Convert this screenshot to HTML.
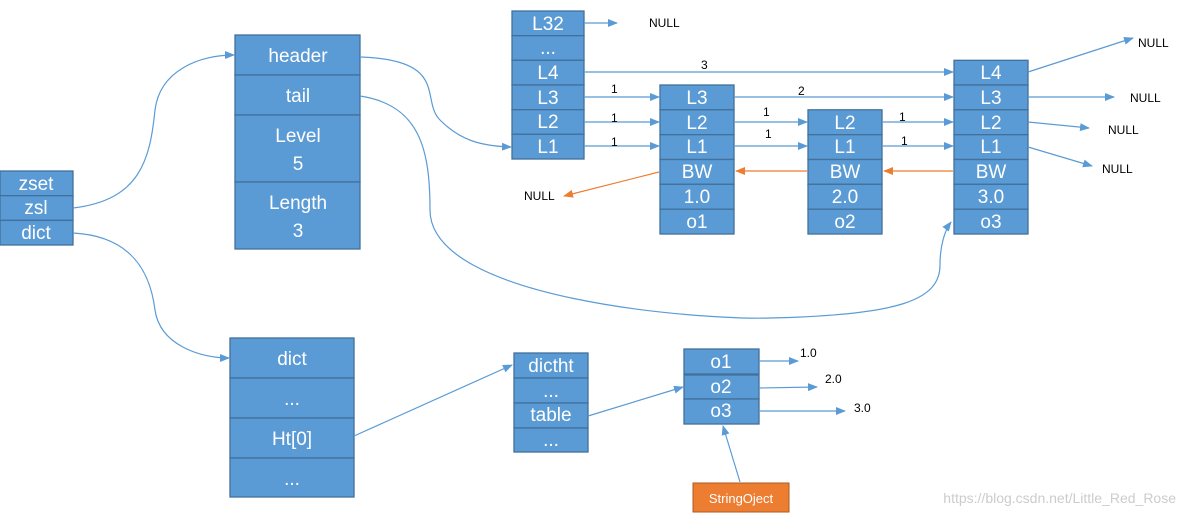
<!DOCTYPE html>
<html><head><meta charset="utf-8"><style>
html,body{margin:0;padding:0;background:#fff;}
svg{display:block;}
.b{fill:#5b9bd5;stroke:#41719c;stroke-width:1.3;}
.t{fill:#fff;font-family:"Liberation Sans",sans-serif;font-size:19px;text-anchor:middle;}
.l{stroke:#5b9bd5;stroke-width:1.2;fill:none;}
.o{stroke:#ed7d31;stroke-width:1.2;fill:none;}
.s{font-family:"Liberation Sans",sans-serif;font-size:12px;fill:#000;}
</style></head><body>
<svg width="1185" height="516" viewBox="0 0 1185 516" xmlns="http://www.w3.org/2000/svg">
<defs>
<marker id="a" markerWidth="10" markerHeight="8" refX="9" refY="4" orient="auto" markerUnits="userSpaceOnUse"><path d="M0,0 L10,4 L0,8z" fill="#5b9bd5"/></marker>
<marker id="ao" markerWidth="10" markerHeight="8" refX="9" refY="4" orient="auto" markerUnits="userSpaceOnUse"><path d="M0,0 L10,4 L0,8z" fill="#ed7d31"/></marker>
</defs>
<!-- zset -->
<rect class="b" x="0" y="171" width="73" height="24.7"/><rect class="b" x="0" y="195.7" width="73" height="24.7"/><rect class="b" x="0" y="220.4" width="73" height="24.6"/>
<text class="t" x="36" y="190">zset</text><text class="t" x="36" y="214">zsl</text><text class="t" x="36" y="239">dict</text>
<!-- zskiplist -->
<rect class="b" x="235" y="35" width="125" height="40"/><rect class="b" x="235" y="75" width="125" height="40"/><rect class="b" x="235" y="115" width="125" height="67"/><rect class="b" x="235" y="182" width="125" height="67"/>
<text class="t" x="298" y="62">header</text><text class="t" x="298" y="102">tail</text>
<text class="t" x="298" y="142">Level</text><text class="t" x="298" y="170">5</text>
<text class="t" x="298" y="209">Length</text><text class="t" x="298" y="237">3</text>
<!-- head node -->
<g>
<rect class="b" x="512" y="11" width="72" height="24.7"/><rect class="b" x="512" y="35.7" width="72" height="24.6"/><rect class="b" x="512" y="60.3" width="72" height="24.7"/><rect class="b" x="512" y="85" width="72" height="24.7"/><rect class="b" x="512" y="109.7" width="72" height="24.6"/><rect class="b" x="512" y="134.3" width="72" height="24.7"/>
<text class="t" x="548" y="30">L32</text><text class="t" x="548" y="54">...</text><text class="t" x="548" y="79">L4</text><text class="t" x="548" y="104">L3</text><text class="t" x="548" y="128">L2</text><text class="t" x="548" y="153">L1</text>
</g>
<!-- node1 -->
<g>
<rect class="b" x="660" y="85" width="74" height="24.8"/><rect class="b" x="660" y="109.8" width="74" height="24.9"/><rect class="b" x="660" y="134.7" width="74" height="24.8"/><rect class="b" x="660" y="159.5" width="74" height="24.8"/><rect class="b" x="660" y="184.3" width="74" height="24.9"/><rect class="b" x="660" y="209.2" width="74" height="24.8"/>
<text class="t" x="697" y="104">L3</text><text class="t" x="697" y="129">L2</text><text class="t" x="697" y="153">L1</text><text class="t" x="697" y="178">BW</text><text class="t" x="697" y="203">1.0</text><text class="t" x="697" y="228">o1</text>
</g>
<!-- node2 -->
<g>
<rect class="b" x="808" y="109.8" width="74" height="24.9"/><rect class="b" x="808" y="134.7" width="74" height="24.8"/><rect class="b" x="808" y="159.5" width="74" height="24.8"/><rect class="b" x="808" y="184.3" width="74" height="24.9"/><rect class="b" x="808" y="209.2" width="74" height="24.8"/>
<text class="t" x="845" y="129">L2</text><text class="t" x="845" y="153">L1</text><text class="t" x="845" y="178">BW</text><text class="t" x="845" y="203">2.0</text><text class="t" x="845" y="228">o2</text>
</g>
<!-- node3 -->
<g>
<rect class="b" x="954" y="60.3" width="74" height="24.7"/><rect class="b" x="954" y="85" width="74" height="24.8"/><rect class="b" x="954" y="109.8" width="74" height="24.9"/><rect class="b" x="954" y="134.7" width="74" height="24.8"/><rect class="b" x="954" y="159.5" width="74" height="24.8"/><rect class="b" x="954" y="184.3" width="74" height="24.9"/><rect class="b" x="954" y="209.2" width="74" height="24.8"/>
<text class="t" x="991" y="79">L4</text><text class="t" x="991" y="104">L3</text><text class="t" x="991" y="129">L2</text><text class="t" x="991" y="153">L1</text><text class="t" x="991" y="178">BW</text><text class="t" x="991" y="203">3.0</text><text class="t" x="991" y="228">o3</text>
</g>
<!-- dict -->
<rect class="b" x="230" y="338" width="124" height="40"/><rect class="b" x="230" y="378" width="124" height="40"/><rect class="b" x="230" y="418" width="124" height="40"/><rect class="b" x="230" y="458" width="124" height="39"/>
<text class="t" x="292" y="365">dict</text><text class="t" x="292" y="405">...</text><text class="t" x="292" y="445">Ht[0]</text><text class="t" x="292" y="485">...</text>
<!-- dictht -->
<rect class="b" x="514" y="353" width="74" height="25"/><rect class="b" x="514" y="378" width="74" height="25"/><rect class="b" x="514" y="403" width="74" height="25"/><rect class="b" x="514" y="428" width="74" height="24"/>
<text class="t" x="551" y="372">dictht</text><text class="t" x="551" y="397">...</text><text class="t" x="551" y="421">table</text><text class="t" x="551" y="446">...</text>
<!-- o box -->
<rect class="b" x="684" y="349" width="75" height="25"/><rect class="b" x="684" y="375" width="75" height="24"/><rect class="b" x="684" y="399" width="75" height="25"/>
<text class="t" x="721" y="368">o1</text><text class="t" x="721" y="393">o2</text><text class="t" x="721" y="417">o3</text>
<rect x="693" y="483" width="96" height="29" fill="#ed7d31" stroke="#ae5a21" stroke-width="1"/>
<text x="741" y="503" font-family="Liberation Sans,sans-serif" font-size="13" fill="#fff" text-anchor="middle">StringOject</text>
<!-- connectors -->
<path class="l" d="M73,208 C140,200 150,160 155,110 C160,70 200,55 234,55" marker-end="url(#a)"/>
<path class="l" d="M73,233 C130,236 150,270 155,310 C160,345 200,358 229,358" marker-end="url(#a)"/>
<path class="l" d="M360,57 C450,60 420,100 440,120 C460,140 480,146 511,147" marker-end="url(#a)"/>
<path class="l" d="M360,96 C420,105 430,150 430,210 C430,300 700,320 770,318 C900,315 940,300 940,265 C940,245 945,230 951,222" marker-end="url(#a)"/>
<path class="l" d="M354,436 L512,365" marker-end="url(#a)"/>
<path class="l" d="M588,416 L683,387" marker-end="url(#a)"/>
<path class="l" d="M740,482 L723,426" marker-end="url(#a)"/>
<path class="l" d="M759,361 L798,361" marker-end="url(#a)"/>
<path class="l" d="M759,388 L817,387" marker-end="url(#a)"/>
<path class="l" d="M759,411 L845,411" marker-end="url(#a)"/>
<text class="s" x="800" y="357">1.0</text><text class="s" x="825" y="383">2.0</text><text class="s" x="854" y="412">3.0</text>
<!-- skip list arrows -->
<path class="l" d="M584,23 L617,23" marker-end="url(#a)"/>
<text class="s" x="649" y="27">NULL</text>
<path class="l" d="M584,72 L953,72" marker-end="url(#a)"/><text class="s" x="701" y="69">3</text>
<path class="l" d="M584,97 L659,97" marker-end="url(#a)"/><text class="s" x="611" y="93">1</text>
<path class="l" d="M584,122 L659,122" marker-end="url(#a)"/><text class="s" x="611" y="122">1</text>
<path class="l" d="M584,146 L659,146" marker-end="url(#a)"/><text class="s" x="611" y="146">1</text>
<path class="l" d="M734,97 L953,97" marker-end="url(#a)"/><text class="s" x="798" y="95">2</text>
<path class="l" d="M734,122 L807,122" marker-end="url(#a)"/><text class="s" x="763" y="116">1</text>
<path class="l" d="M734,146 L807,146" marker-end="url(#a)"/><text class="s" x="765" y="138">1</text>
<path class="l" d="M882,122 L953,122" marker-end="url(#a)"/><text class="s" x="899" y="121">1</text>
<path class="l" d="M882,146 L953,146" marker-end="url(#a)"/><text class="s" x="901" y="145">1</text>
<path class="o" d="M807,171 L736,171" marker-end="url(#ao)"/>
<path class="o" d="M953,171 L884,171" marker-end="url(#ao)"/>
<path class="o" d="M659,172 L564,196" marker-end="url(#ao)"/>
<text class="s" x="524" y="200">NULL</text>
<path class="l" d="M1028,72 L1133,38" marker-end="url(#a)"/><text class="s" x="1138" y="47">NULL</text>
<path class="l" d="M1028,97 L1114,97" marker-end="url(#a)"/><text class="s" x="1130" y="102">NULL</text>
<path class="l" d="M1028,122 L1089,128" marker-end="url(#a)"/><text class="s" x="1108" y="134">NULL</text>
<path class="l" d="M1028,147 L1092,166" marker-end="url(#a)"/><text class="s" x="1102" y="173">NULL</text>
<text x="1176" y="503" font-family="Liberation Sans,sans-serif" font-size="14" fill="#ccc" text-anchor="end">https://blog.csdn.net/Little_Red_Rose</text>
</svg>
</body></html>
